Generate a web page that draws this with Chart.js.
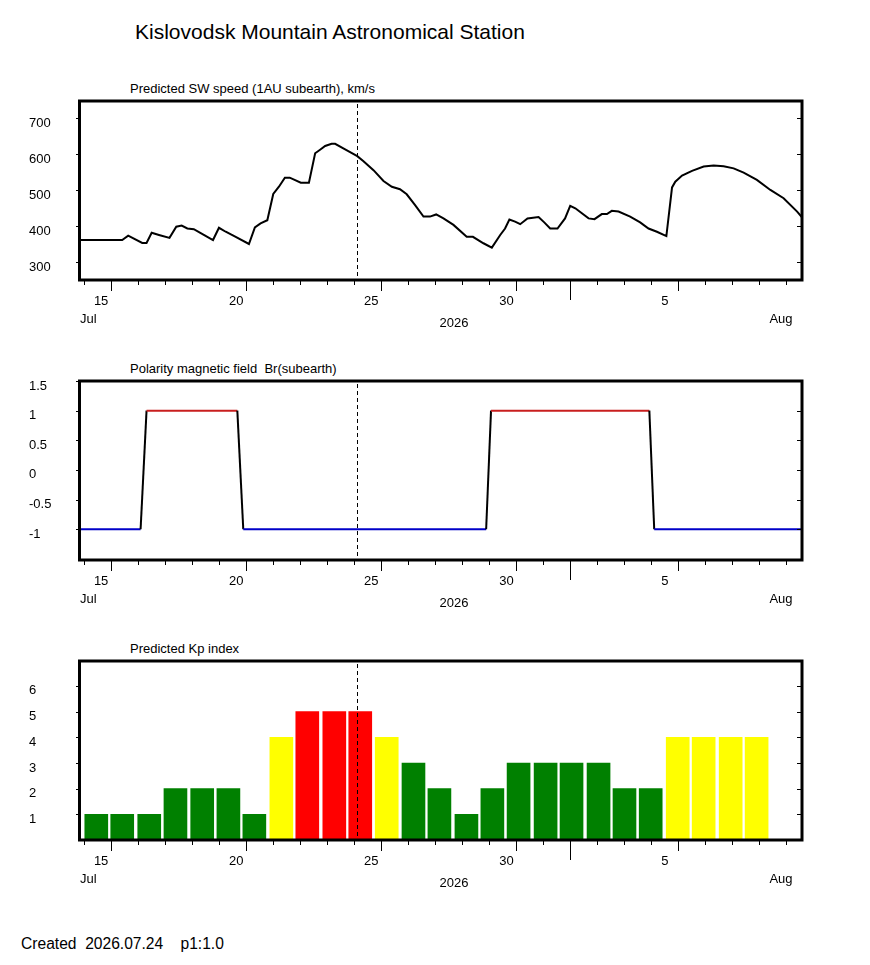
<!DOCTYPE html>
<html>
<head>
<meta charset="utf-8">
<script src="https://cdn.jsdelivr.net/npm/chart.js@4.4.1/dist/chart.umd.min.js"></script>
<style>
  body { margin: 0; background: #fff; font-family: "Liberation Sans", Arial, sans-serif; color: #000; }
  #pagina { position: relative; width: 870px; height: 965px; overflow: hidden; }
  .texto { position: absolute; white-space: pre; }
  #titulo { left: 135px; top: 20px; font-size: 21px; line-height: 24px; }
  .sub { left: 130px; font-size: 13px; line-height: 15px; }
  #rodape { left: 21px; top: 935px; font-size: 15.6px; line-height: 18px; }
  canvas { position: absolute; left: 0; }
</style>
</head>
<body>
<div id="pagina">
  <div id="titulo" class="texto">Kislovodsk Mountain Astronomical Station</div>
  <div class="texto sub" style="top:81px">Predicted SW speed (1AU subearth), km/s</div>
  <div class="texto sub" style="top:361px">Polarity magnetic field  Br(subearth)</div>
  <div class="texto sub" style="top:641px">Predicted Kp index</div>
  <canvas id="cVel" width="870" height="280" style="top:60px"></canvas>
  <canvas id="cPol" width="870" height="280" style="top:340px"></canvas>
  <canvas id="cKp" width="870" height="280" style="top:620px"></canvas>
  <div id="rodape" class="texto">Created  2026.07.24    p1:1.0</div>
</div>
<script>
// Eixo de tempo: dia do mes de julho/2026 (32 = 1 de agosto)
const diaMin = 13.82;
const diaMax = 40.58;
const diaAtual = 24.12;           // linha tracejada (data de criacao)
const inicioAgosto = 32;
const diasRotulados = [15, 20, 25, 30, 36];
const rotulosX = ['15', '20', '25', '30', '5'];

// Velocidade do vento solar (km/s)
const swDias = [13.82, 15.42, 15.64, 16.16, 16.32, 16.51, 16.78, 17.17, 17.42, 17.62,
  17.83, 18.07, 18.44, 18.78, 19.0, 19.25, 19.62, 20.11, 20.33, 20.54,
  20.79, 21.01, 21.22, 21.44, 21.62, 22.03, 22.33, 22.56, 22.73, 22.93,
  23.17, 23.30, 23.67, 24.12, 24.35, 24.72, 25.09, 25.40, 25.70, 25.95,
  26.26, 26.57, 26.81, 27.04, 27.31, 27.68, 28.17, 28.40, 28.79, 29.10,
  29.41, 29.59, 29.75, 29.96, 30.15, 30.42, 30.83, 31.04, 31.26, 31.53,
  31.81, 32.0, 32.19, 32.68, 32.90, 33.17, 33.36, 33.54, 33.79, 34.22,
  34.59, 34.90, 35.21, 35.56, 35.77, 35.89, 36.14, 36.51, 36.94, 37.31,
  37.68, 38.05, 38.42, 38.91, 39.41, 39.90, 40.40, 40.58];
const swVel = [362, 362, 374, 354, 354, 382, 376, 368, 399, 402,
  394, 392, 376, 362, 396, 385, 371, 351, 397, 408,
  417, 490, 510, 535, 535, 521, 521, 603, 612, 623,
  629, 629, 614, 595, 581, 556, 526, 510, 503, 489,
  459, 427, 427, 433, 422, 404, 371, 371, 353, 341,
  376, 394, 419, 413, 406, 422, 426, 411, 394, 394,
  422, 457, 450, 422, 420, 434, 434, 443, 441, 427,
  411, 394, 385, 373, 508, 524, 541, 554, 566, 569,
  567, 561, 549, 529, 501, 478, 441, 425];
const swTicks = [300, 400, 500, 600, 700];

// Polaridade do campo magnetico
const polDias = [13.82, 16.10, 16.32, 19.68, 19.90, 28.89, 29.07, 34.93, 35.11, 40.58];
const polVal = [-1, -1, 1, 1, -1, -1, 1, 1, -1, -1];
const polTicks = [-1, -0.5, 0, 0.5, 1, 1.5];

// Indice Kp previsto (centro de cada barra)
const kpDias = [14.46, 15.42, 16.42, 17.39, 18.38, 19.35, 20.31, 21.31, 22.27, 23.27,
  24.23, 25.21, 26.20, 27.16, 28.16, 29.12, 30.09, 31.09, 32.05, 33.05,
  34.01, 34.98, 35.98, 36.94, 37.94, 38.90];
const kpVal = [1, 1, 1, 2, 2, 2, 1, 4, 5, 5, 5, 4, 3, 2, 1, 2, 3, 3, 3, 3, 2, 2, 4, 4, 4, 4];
const kpTicks = [1, 2, 3, 4, 5, 6];

const FONTE = '"Liberation Sans", Arial, sans-serif';
Chart.defaults.font.family = FONTE;
Chart.defaults.font.size = 13;
Chart.defaults.color = '#000';

function corKp(v) {
    if (v >= 5) return '#ff0000';
    if (v >= 4) return '#ffff00';
    return '#008000';
}

function corPolaridade(ctx) {
    const a = ctx.p0.parsed.y, b = ctx.p1.parsed.y;
    if (a > 0 && b > 0) return '#c81e1e';
    if (a < 0 && b < 0) return '#0000c8';
    return '#000';
}

// Moldura grossa, marcas dos eixos, linha tracejada e rotulos Jul/2026/Aug
const moldura = {
    id: 'moldura',
    afterDatasetsDraw(chart, args, opts) {
        const { ctx, chartArea: a, scales: { x, y } } = chart;
        ctx.save();
        ctx.strokeStyle = '#000';

        const xn = Math.round(x.getPixelForValue(diaAtual)) + 0.5;
        ctx.lineWidth = 1;
        ctx.setLineDash([4, 3]);
        ctx.beginPath();
        ctx.moveTo(xn, a.top + 3);
        ctx.lineTo(xn, a.bottom - 4);
        ctx.stroke();
        ctx.setLineDash([]);

        ctx.lineWidth = 3;
        ctx.strokeRect(a.left + 0.5, a.top, a.right - a.left - 0.5, a.bottom - a.top);

        ctx.lineWidth = 1;
        ctx.beginPath();
        opts.yTicks.forEach(v => {
            const py = Math.round(y.getPixelForValue(v)) + 0.5;
            ctx.moveTo(a.left - 3, py); ctx.lineTo(a.left, py);
            ctx.moveTo(a.right - 5, py); ctx.lineTo(a.right, py);
        });
        for (let d = Math.ceil(diaMin); d <= diaMax; d++) {
            const px = Math.round(x.getPixelForValue(d)) + 0.5;
            let len = 5;
            if (diasRotulados.includes(d)) len = 11;
            if (d === inicioAgosto) len = 20;
            ctx.moveTo(px, a.bottom);
            ctx.lineTo(px, a.bottom + len);
        }
        ctx.stroke();

        ctx.fillStyle = '#000';
        ctx.font = '13px ' + FONTE;
        ctx.textBaseline = 'middle';
        ctx.textAlign = 'left';
        ctx.fillText('Jul', a.left + 1, a.bottom + 39);
        ctx.textAlign = 'center';
        ctx.fillText('2026', 454, a.bottom + 43);
        ctx.fillText('Aug', a.right - 21, a.bottom + 39);
        ctx.restore();
    }
};

function eixoX() {
    return {
        type: 'linear',
        min: diaMin,
        max: diaMax,
        offset: false,
        afterFit: s => { s.height = 60; },
        afterBuildTicks: s => { s.ticks = diasRotulados.map(v => ({ value: v })); },
        grid: { display: false, drawTicks: false },
        border: { display: false },
        ticks: {
            autoSkip: false, maxRotation: 0, minRotation: 0,
            align: 'start', labelOffset: -17, padding: 14,
            callback: v => rotulosX[diasRotulados.indexOf(v)]
        }
    };
}

function eixoY(min, max, ticks) {
    return {
        min: min,
        max: max,
        afterFit: s => { s.width = 50; },
        afterBuildTicks: s => { s.ticks = ticks.map(v => ({ value: v })); },
        grid: { display: false, drawTicks: false },
        border: { display: false },
        ticks: { crossAlign: 'far', labelOffset: 5, padding: 0, callback: v => String(v) }
    };
}

function opcoes(min, max, ticks) {
    return {
        responsive: false,
        animation: false,
        devicePixelRatio: 1,
        events: [],
        layout: { padding: { left: 29, right: 68, top: 41, bottom: 0 } },
        plugins: { legend: { display: false }, tooltip: { enabled: false }, moldura: { yTicks: ticks } },
        scales: { x: eixoX(), y: eixoY(min, max, ticks) }
    };
}

new Chart(document.getElementById('cVel'), {
    type: 'line',
    data: {
        datasets: [{
            data: swDias.map((d, i) => ({ x: d, y: swVel[i] })),
            borderColor: '#000',
            borderWidth: 2,
            pointRadius: 0,
            tension: 0
        }]
    },
    options: opcoes(251, 748, swTicks),
    plugins: [moldura]
});

new Chart(document.getElementById('cPol'), {
    type: 'line',
    data: {
        datasets: [{
            data: polDias.map((d, i) => ({ x: d, y: polVal[i] })),
            borderWidth: 2,
            pointRadius: 0,
            segment: { borderColor: corPolaridade }
        }]
    },
    options: opcoes(-1.52, 1.5, polTicks),
    plugins: [moldura]
});

new Chart(document.getElementById('cKp'), {
    type: 'bar',
    data: {
        datasets: [{
            data: kpDias.map((d, i) => ({ x: d, y: kpVal[i] })),
            backgroundColor: kpVal.map(corKp),
            barThickness: 23,
            borderWidth: 0
        }]
    },
    options: opcoes(0, 6.97, kpTicks),
    plugins: [moldura]
});
</script>
</body>
</html>
